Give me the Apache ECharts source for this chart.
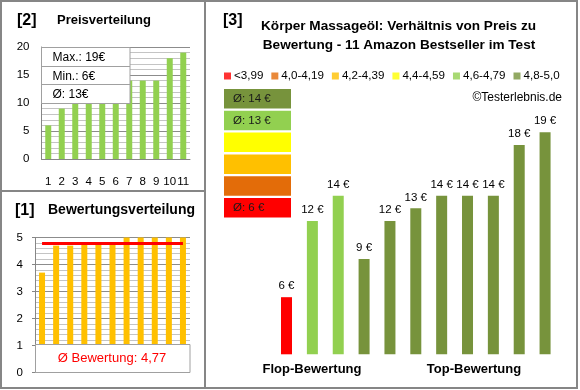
<!DOCTYPE html>
<html><head><meta charset="utf-8">
<script src="https://cdn.jsdelivr.net/npm/echarts@6/dist/echarts.min.js"></script>
<style>html,body{margin:0;padding:0;background:#fff}#c{width:580px;height:390px}</style>
</head><body><div id="c"></div>
<script>
// ---- data ----
const priceCategories = ['1','2','3','4','5','6','7','8','9','10','11'];
const pricesSorted = [6, 9, 12, 12, 13, 14, 14, 14, 14, 18, 19];
const ratingsSorted = [3.7, 4.7, 4.7, 4.8, 4.8, 4.8, 5.0, 5.0, 5.0, 5.0, 5.0];
const avgRating = 4.77;
const productCategories = ['P1','P2','P3','P4','P5','P6','P7','P8','P9','P10','P11'];
const pricesByRating = [6, 12, 14, 9, 12, 13, 14, 14, 14, 18, 19];
const ratingsByRating = [3.7, 4.7, 4.7, 4.8, 4.8, 4.8, 5.0, 5.0, 5.0, 5.0, 5.0];
const bandLabels = ['<3,99', '4,0-4,19', '4,2-4,39', '4,4-4,59', '4,6-4,79', '4,8-5,0'];
const bandMins = [0, 4.0, 4.2, 4.4, 4.6, 4.8];
const bandColors = ['#FF0000', '#E36C09', '#FFC000', '#FFFF00', '#92D050', '#77933C'];
const priceTicks = [0, 5, 10, 15, 20];
const ratingTicks = [0, 1, 2, 3, 4, 5];

const FONT = "'Liberation Sans', Arial, sans-serif";
const MAJOR_GRID = '#8c8c8c';
const MINOR_GRID = '#c4c4c4';
const AXIS_COLOR = '#868686';

function bandIndex(r) {
  let idx = 0;
  for (let i = 0; i < bandMins.length; i++) if (r >= bandMins[i] - 1e-9) idx = i;
  return idx;
}
const maxP = Math.max(...pricesSorted), minP = Math.min(...pricesSorted);
const avgP = Math.round(pricesSorted.reduce((a, b) => a + b, 0) / pricesSorted.length);
const statLines = ['Max.: ' + maxP + '€', 'Min.: ' + minP + '€', 'Ø: ' + avgP + '€'];

const chart = echarts.init(document.getElementById('c'), null, {renderer: 'canvas'});

function txt(text, x, y, size, opts) {
  opts = opts || {};
  return {type: 'text', x: x, y: y, z: 100,
    style: {text: text, fontSize: size, fontFamily: FONT, fontWeight: opts.bold ? 'bold' : 'normal',
      fill: opts.color || '#000', align: opts.align || 'left', verticalAlign: 'middle'}};
}

const graphics = [];
// borders
graphics.push({type: 'rect', z: 100, shape: {x: 1, y: 1, width: 576, height: 387}, style: {fill: 'none', stroke: AXIS_COLOR, lineWidth: 2}});
graphics.push({type: 'line', z: 100, shape: {x1: 205, y1: 1, x2: 205, y2: 388}, style: {stroke: AXIS_COLOR, lineWidth: 2}});
graphics.push({type: 'line', z: 100, shape: {x1: 1, y1: 191, x2: 205, y2: 191}, style: {stroke: AXIS_COLOR, lineWidth: 2}});
// titles
graphics.push(txt('[2]', 17, 21, 16, {bold: true}));
graphics.push(txt('Preisverteilung', 57, 20, 13, {bold: true}));
graphics.push(txt('[1]', 15, 211, 16, {bold: true}));
graphics.push(txt('Bewertungsverteilung', 48, 210, 14, {bold: true}));
graphics.push(txt('[3]', 223, 21, 16, {bold: true}));
graphics.push(txt('Körper Massageöl: Verhältnis von Preis zu', 398.5, 26, 13.6, {bold: true, align: 'center'}));
graphics.push(txt('Bewertung - 11 Amazon Bestseller im Test', 399, 45, 13.6, {bold: true, align: 'center'}));
graphics.push(txt('©Testerlebnis.de', 562, 98, 12, {align: 'right'}));
graphics.push(txt('Flop-Bewertung', 312, 369, 13, {bold: true, align: 'center'}));
graphics.push(txt('Top-Bewertung', 474, 369, 13, {bold: true, align: 'center'}));
// stats box
graphics.push({type: 'rect', z: 100, shape: {x: 41.5, y: 47.5, width: 88.5, height: 56}, style: {fill: '#fff', stroke: '#a0a0a0', lineWidth: 1}});
graphics.push({type: 'line', z: 101, shape: {x1: 41.5, y1: 66.5, x2: 130, y2: 66.5}, style: {stroke: '#a0a0a0', lineWidth: 1}});
graphics.push({type: 'line', z: 101, shape: {x1: 41.5, y1: 84.5, x2: 130, y2: 84.5}, style: {stroke: '#a0a0a0', lineWidth: 1}});
statLines.forEach((s, i) => graphics.push(txt(s, 52.5, 58 + i * 18.5, 12)));
// rating box
graphics.push({type: 'rect', z: 100, shape: {x: 35.5, y: 344.5, width: 154.5, height: 28}, style: {fill: '#fff', stroke: '#a0a0a0', lineWidth: 1}});
graphics.push(txt('Ø Bewertung: ' + avgRating.toFixed(2).replace('.', ','), 112, 358.5, 13, {color: '#FF0000', align: 'center'}));
// band boxes
for (let i = bandColors.length - 1; i >= 0; i--) {
  const row = bandColors.length - 1 - i;
  const y = 89 + row * 21.8;
  graphics.push({type: 'rect', z: 100, shape: {x: 224, y: y, width: 67, height: 19.5}, style: {fill: bandColors[i]}});
  const ps = pricesByRating.filter((p, k) => bandIndex(ratingsByRating[k]) === i);
  if (ps.length) {
    const a = Math.round(ps.reduce((x, y2) => x + y2, 0) / ps.length);
    graphics.push(txt('Ø: ' + a + ' €', 233, y + 10, 11.5, {color: '#1a1a1a'}));
  }
}

const legendSeries = bandLabels.map((l, i) => ({
  name: l, type: 'scatter', xAxisIndex: 2, yAxisIndex: 2, data: [], itemStyle: {color: bandColors[i]}
}));

const option = {
  animation: false,
  backgroundColor: '#fff',
  textStyle: {fontFamily: FONT},
  legend: {
    left: 224, top: 70, padding: 0, itemGap: 8, itemWidth: 7, itemHeight: 7, icon: 'rect',
    textStyle: {fontSize: 11.6, fontFamily: FONT, color: '#000', padding: [0, 0, 0, -2]},
    selectedMode: false, data: bandLabels
  },
  grid: [
    {left: 41.5, top: 47, width: 148.5, height: 112, outerBoundsMode: 'none', containLabel: false},
    {left: 35, top: 237.5, width: 155, height: 135, outerBoundsMode: 'none', containLabel: false},
    {left: 273.6, top: 119.5, width: 284.4, height: 234.8, outerBoundsMode: 'none', containLabel: false}
  ],
  xAxis: [
    {gridIndex: 0, type: 'category', data: priceCategories,
      axisLine: {show: true, lineStyle: {color: AXIS_COLOR, width: 1}}, axisTick: {show: false},
      axisLabel: {fontSize: 11.5, color: '#000', margin: 17, interval: 0, fontFamily: FONT}},
    {gridIndex: 1, type: 'category', data: priceCategories, show: false},
    {gridIndex: 2, type: 'category', data: productCategories, show: false}
  ],
  yAxis: [
    {gridIndex: 0, type: 'value', min: priceTicks[0], max: priceTicks[priceTicks.length - 1], interval: 5,
      axisLine: {show: true, lineStyle: {color: AXIS_COLOR}}, axisTick: {show: false},
      axisLabel: {fontSize: 11.5, color: '#000', margin: 12, fontFamily: FONT},
      splitLine: {show: true, lineStyle: {color: MAJOR_GRID, width: 1}},
      minorTick: {show: false, splitNumber: 5},
      minorSplitLine: {show: true, lineStyle: {color: MINOR_GRID, width: 1}}},
    {gridIndex: 1, type: 'value', min: ratingTicks[0], max: ratingTicks[ratingTicks.length - 1], interval: 1,
      axisLine: {show: true, lineStyle: {color: AXIS_COLOR}}, axisTick: {show: true, length: 3, lineStyle: {color: AXIS_COLOR}},
      axisLabel: {fontSize: 11.5, color: '#000', margin: 12, fontFamily: FONT},
      splitLine: {show: true, lineStyle: {color: MAJOR_GRID, width: 1}},
      minorTick: {show: false, splitNumber: 5},
      minorSplitLine: {show: true, lineStyle: {color: MINOR_GRID, width: 1}}},
    {gridIndex: 2, type: 'value', min: 1.5, max: 20, show: false, splitLine: {show: false}}
  ],
  series: [
    {type: 'bar', xAxisIndex: 0, yAxisIndex: 0, data: pricesSorted, barWidth: 6,
      itemStyle: {color: '#92D050'}, silent: true},
    {type: 'bar', xAxisIndex: 1, yAxisIndex: 1, data: ratingsSorted, barWidth: 6,
      itemStyle: {color: '#FFC000'}, silent: true,
      markLine: {silent: true, symbol: ['none', 'none'], label: {show: false},
        lineStyle: {color: '#FF0000', width: 3, type: 'solid'},
        data: [[{coord: [0, avgRating]}, {coord: [priceCategories.length - 1, avgRating]}]]}},
    {type: 'bar', xAxisIndex: 2, yAxisIndex: 2, data: pricesByRating, barWidth: 11, clip: true,
      itemStyle: {color: p => bandColors[bandIndex(ratingsByRating[p.dataIndex])]},
      label: {show: true, position: 'top', distance: 5, formatter: '{c} €', fontSize: 11.5, color: '#000', fontFamily: FONT},
      silent: true}
  ].concat(legendSeries),
  graphic: graphics
};
chart.setOption(option);
</script></body></html>
